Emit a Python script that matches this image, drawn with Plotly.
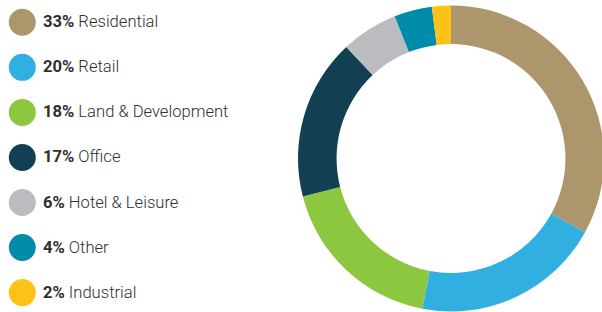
import plotly.graph_objects as go

categories = ["Residential", "Retail", "Land & Development", "Office", "Hotel & Leisure", "Other", "Industrial"]
values = [33, 20, 18, 17, 6, 4, 2]
colors = ["#AD966B", "#31AFE1", "#8DC63F", "#123F51", "#BBBCBF", "#008BAA", "#FDC218"]

W, H = 604, 312
fig = go.Figure()

cx, cy, r = 451, 158.5, 153
fig.add_trace(go.Pie(
    labels=categories, values=values, sort=False, direction="clockwise", rotation=0,
    hole=0.748, textinfo="none", hoverinfo="label+percent",
    marker=dict(colors=colors, line=dict(width=0)),
    domain=dict(x=[(cx - r) / W, (cx + r) / W], y=[1 - (cy + r) / H, 1 - (cy - r) / H]),
    showlegend=False,
))

# legend drawn as markers in a pixel-scaled axis
y0, step, xc = 22.3, 45.05, 22.3
ys = [y0 + i * step for i in range(len(categories))]
fig.add_trace(go.Scatter(
    x=[xc] * len(categories), y=ys, mode="markers",
    marker=dict(size=27, color=colors, line=dict(width=0)),
    hoverinfo="skip", showlegend=False,
))

for cat, v, y in zip(categories, values, ys):
    fig.add_annotation(
        x=40.5, y=y - 0.5, xref="x", yref="y", xanchor="left", yanchor="middle",
        text=f"<b>{v}%</b> {cat}", showarrow=False,
        font=dict(family="Roboto", size=16.6, color="#2f2f2f", weight=300),
    )

fig.update_layout(
    width=W, height=H, margin=dict(l=0, r=0, t=0, b=0),
    paper_bgcolor="white", plot_bgcolor="rgba(0,0,0,0)",
    xaxis=dict(domain=[0, 0.45], range=[0, 0.45 * W], visible=False, fixedrange=True),
    yaxis=dict(domain=[0, 1], range=[H, 0], visible=False, fixedrange=True),
)

fig.write_html(
    "out.html",
    config={"displayModeBar": False, "staticPlot": True},
    post_script="document.body.style.margin='0';document.body.style.overflow='hidden';",
)
